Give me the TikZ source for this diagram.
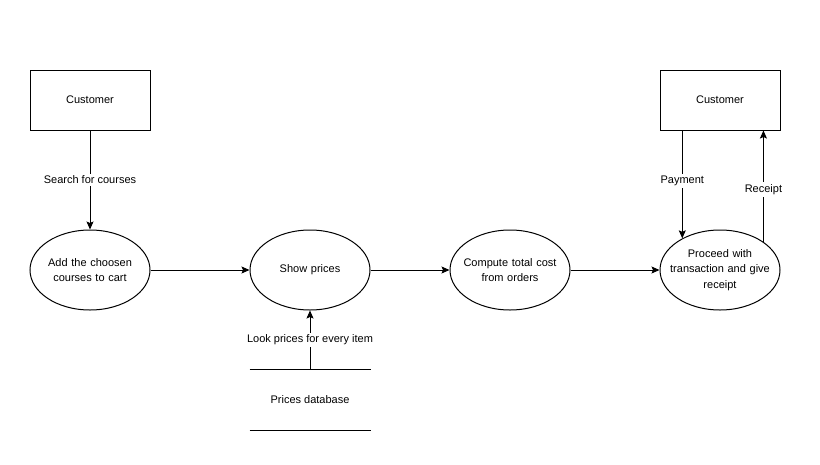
\documentclass[tikz,border=0pt]{standalone}
\usepackage{fontspec}
\setmainfont{Liberation Sans}
\usetikzlibrary{shapes.geometric,arrows.meta}
\tikzset{
  entity/.style={draw,rectangle,minimum width=120pt,minimum height=60pt,inner sep=0pt},
  process/.style={draw,ellipse,minimum width=120pt,minimum height=80pt,inner ysep=0pt,inner xsep=-25pt,align=center,text width=110pt},
  store/.style={minimum width=120pt,minimum height=60pt,inner sep=0pt},
  flow/.style={-{Stealth[length=8pt,width=7pt,inset=1.5pt]}},
  lbl/.style={fill=white,inner sep=2pt}
}
\begin{document}
\begin{tikzpicture}[x=1pt,y=-1pt,line width=1pt,font=\fontsize{11}{15.5}\selectfont]
  \useasboundingbox (0,0) rectangle (820,464);
  \draw
    (90,100) node[entity] (cust1){Customer}
    (720,100) node[entity] (cust2){Customer}
    (90,270) node[process] (add){Add the choosen\\courses to cart}
    (310,270) node[process] (show){Show prices}
    (510,270) node[process] (compute){Compute total cost\\from orders}
    (720,270) node[process] (proceed){Proceed with\\transaction and give\\receipt}
    (310,400) node[store] (db){Prices database};
  \draw (db.north west) -- (db.north east);
  \draw (db.south west) -- (db.south east);
  \begin{scope}[flow]
    \draw (cust1) to node[lbl]{Search for courses} (add);
    \draw (add) to (show);
    \draw (show) to (compute);
    \draw (compute) to (proceed);
    \draw (db.north) to node[lbl]{Look prices for every item} (show);
    \draw (proceed.140 |- cust2.south) to node[lbl,pos=0.47]{Payment} (proceed.140);
    \draw (proceed.33) to node[lbl,pos=0.47]{Receipt} (proceed.33 |- cust2.south);
  \end{scope}
\end{tikzpicture}
\end{document}
